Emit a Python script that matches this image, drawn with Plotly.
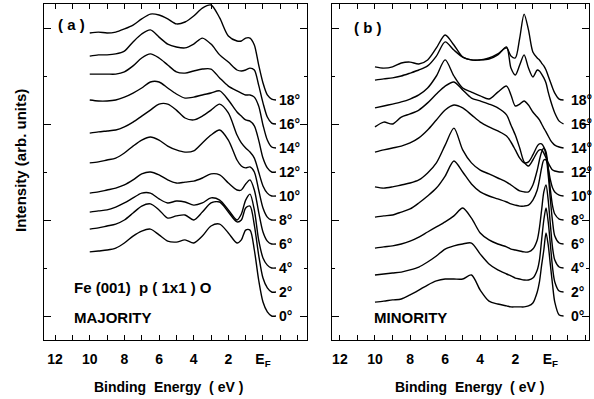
import plotly.graph_objects as go

# ---------------- data ----------------
ANGLES = [0, 2, 4, 6, 8, 10, 12, 14, 16, 18]

# Panel (a) majority spectra: binding energy grid (eV) and intensities (arb. units, above own baseline)
E_A = [10, 9.5, 9, 8.5, 8, 7.5, 7, 6.5, 6, 5.5, 5, 4.5, 4, 3.5, 3, 2.5, 2, 1.5, 1.25, 1.0, 0.75, 0.5, 0.25, 0, -0.25, -0.5, -0.75]
MAJ_18 = [2.79, 2.83, 2.79, 2.83, 2.96, 3.12, 3.38, 3.58, 3.54, 3.38, 3.17, 3.25, 3.50, 3.83, 3.96, 3.42, 2.67, 2.46, 2.46, 2.58, 2.58, 2.29, 1.46, 0.71, 0.21, 0.04, 0]
MAJ_16 = [2.83, 2.88, 2.88, 2.92, 3.04, 3.42, 3.75, 3.92, 3.62, 3.33, 3.21, 3.17, 3.33, 3.58, 3.33, 2.88, 2.58, 2.25, 2.21, 2.25, 2.33, 2.25, 1.62, 0.88, 0.29, 0.04, 0]
MAJ_14 = [3.08, 3.08, 3.08, 3.08, 3.17, 3.42, 3.75, 3.92, 3.75, 3.46, 3.17, 3.12, 3.21, 3.29, 3.29, 2.92, 2.58, 2.38, 2.29, 2.21, 2.21, 2.12, 1.75, 0.96, 0.33, 0.04, 0]
MAJ_12 = [3.00, 2.96, 2.96, 3.00, 3.12, 3.29, 3.50, 3.75, 3.75, 3.50, 3.25, 3.08, 3.12, 3.21, 3.29, 3.38, 3.00, 2.50, 2.33, 2.17, 2.12, 1.92, 1.33, 0.58, 0.17, 0, 0]
MAJ_10 = [2.62, 2.67, 2.71, 2.75, 2.88, 3.08, 3.33, 3.58, 3.83, 3.83, 3.58, 3.25, 3.17, 3.33, 3.58, 3.83, 3.46, 2.54, 2.21, 2.00, 1.83, 1.58, 1.00, 0.42, 0.12, 0, 0]
MAJ_8 = [2.38, 2.42, 2.50, 2.58, 2.79, 3.08, 3.33, 3.46, 3.33, 3.08, 2.92, 2.83, 2.88, 3.21, 3.54, 3.75, 3.33, 2.50, 2.25, 2.17, 2.21, 2.00, 1.25, 0.50, 0.12, 0, 0]
MAJ_6 = [2.12, 2.17, 2.25, 2.33, 2.46, 2.67, 2.92, 3.00, 2.88, 2.67, 2.54, 2.58, 2.62, 2.75, 2.92, 2.88, 2.54, 2.25, 2.25, 2.50, 2.67, 2.25, 1.33, 0.50, 0.12, 0, 0]
MAJ_4 = [2.33, 2.38, 2.42, 2.54, 2.71, 2.92, 3.12, 3.12, 2.88, 2.71, 2.79, 2.75, 2.62, 2.71, 2.92, 2.83, 2.42, 2.00, 2.25, 2.83, 3.08, 2.42, 1.17, 0.42, 0.12, 0, 0]
MAJ_2 = [2.62, 2.67, 2.75, 2.83, 3.00, 3.29, 3.58, 3.67, 3.42, 3.08, 3.17, 3.21, 3.00, 3.33, 3.71, 3.75, 3.33, 2.92, 3.00, 3.50, 3.58, 2.79, 1.54, 0.58, 0.17, 0, 0]
MAJ_0 = [2.67, 2.71, 2.75, 2.83, 3.04, 3.33, 3.54, 3.62, 3.38, 3.12, 3.08, 3.17, 3.04, 3.33, 3.75, 3.83, 3.46, 3.04, 3.17, 3.58, 3.58, 2.75, 1.50, 0.58, 0.17, 0, 0]

# Panel (b) minority spectra
E_B = [10, 9.5, 9, 8.5, 8, 7.5, 7, 6.5, 6, 5.5, 5, 4.5, 4, 3.5, 3, 2.5, 2.25, 2, 1.75, 1.5, 1.25, 1, 0.75, 0.625, 0.5, 0.375, 0.25, 0.125, 0, -0.125, -0.25, -0.5, -0.75]
MIN_18 = [1.38, 1.33, 1.38, 1.54, 1.58, 1.50, 1.67, 2.17, 2.71, 2.29, 1.79, 1.67, 1.67, 1.75, 1.92, 2.17, 1.83, 1.75, 2.58, 3.58, 2.92, 2.00, 1.75, 1.67, 1.54, 1.42, 1.25, 1.00, 0.75, 0.50, 0.29, 0.04, 0]
MIN_16 = [1.83, 1.88, 1.92, 2.00, 2.12, 2.25, 2.42, 2.83, 3.42, 3.08, 2.79, 2.67, 2.67, 2.71, 2.88, 3.21, 2.33, 2.04, 2.46, 2.88, 2.33, 1.96, 2.25, 2.21, 2.08, 1.92, 1.71, 1.33, 1.00, 0.71, 0.46, 0.12, 0]
MIN_14 = [1.67, 1.75, 1.83, 1.92, 2.04, 2.21, 2.50, 3.00, 3.67, 3.00, 2.50, 2.33, 2.17, 2.04, 2.33, 2.58, 2.21, 1.75, 1.83, 1.96, 1.79, 1.50, 1.29, 1.17, 1.00, 0.83, 0.67, 0.50, 0.33, 0.21, 0.12, 0.04, 0]
MIN_12 = [1.88, 2.08, 2.00, 2.29, 2.42, 2.58, 2.88, 3.25, 3.58, 3.75, 3.42, 3.08, 2.96, 2.83, 2.67, 2.38, 1.96, 1.54, 1.00, 0.42, 0.25, 0.50, 0.83, 0.92, 0.92, 0.79, 0.58, 0.38, 0.21, 0.08, 0.04, 0, 0]
MIN_10 = [1.83, 1.92, 2.00, 2.08, 2.21, 2.42, 2.75, 3.17, 3.58, 3.79, 3.67, 3.38, 3.08, 2.88, 2.71, 2.50, 2.25, 1.92, 1.58, 1.38, 1.42, 1.71, 2.08, 2.17, 2.17, 2.04, 1.71, 1.17, 0.67, 0.33, 0.17, 0.04, 0]
MIN_8 = [1.38, 1.33, 1.38, 1.46, 1.54, 1.67, 1.96, 2.38, 3.12, 3.83, 2.92, 2.38, 2.08, 1.92, 1.75, 1.58, 1.46, 1.33, 1.21, 1.17, 1.17, 1.46, 2.08, 2.50, 2.83, 3.00, 2.83, 2.17, 1.25, 0.58, 0.25, 0.04, 0]
MIN_6 = [1.12, 1.17, 1.21, 1.33, 1.46, 1.71, 2.00, 2.33, 2.83, 3.46, 3.00, 2.50, 2.17, 2.00, 1.88, 1.75, 1.67, 1.62, 1.58, 1.58, 1.62, 1.83, 2.25, 2.67, 3.17, 3.50, 3.50, 2.88, 1.83, 0.92, 0.33, 0.04, 0]
MIN_4 = [0.83, 0.88, 0.92, 1.00, 1.12, 1.29, 1.50, 1.71, 1.92, 2.17, 2.50, 2.08, 1.46, 1.17, 1.00, 0.88, 0.79, 0.75, 0.71, 0.67, 0.67, 0.79, 1.17, 1.67, 2.42, 3.17, 3.46, 2.83, 1.79, 0.83, 0.33, 0.04, 0]
MIN_2 = [0.71, 0.75, 0.79, 0.83, 0.92, 1.04, 1.25, 1.50, 1.79, 1.92, 2.00, 2.04, 1.58, 1.17, 0.92, 0.75, 0.67, 0.58, 0.54, 0.50, 0.50, 0.58, 0.92, 1.33, 2.17, 3.00, 3.50, 2.92, 1.96, 1.00, 0.42, 0.04, 0]
MIN_0 = [0.58, 0.62, 0.67, 0.71, 0.88, 1.08, 1.29, 1.46, 1.54, 1.54, 1.54, 1.71, 1.08, 0.62, 0.50, 0.42, 0.38, 0.38, 0.38, 0.38, 0.42, 0.54, 1.00, 1.42, 2.12, 2.75, 3.46, 2.96, 2.12, 1.29, 0.58, 0.04, 0]

MAJORITY = [MAJ_0, MAJ_2, MAJ_4, MAJ_6, MAJ_8, MAJ_10, MAJ_12, MAJ_14, MAJ_16, MAJ_18]
MINORITY = [MIN_0, MIN_2, MIN_4, MIN_6, MIN_8, MIN_10, MIN_12, MIN_14, MIN_16, MIN_18]

X_TICKS = [12, 10, 8, 6, 4, 2, 0]
X_TICKTEXT = ["12", "10", "8", "6", "4", "2", "E<sub>F</sub>"]
X_MINOR = [11, 9, 7, 5, 3, 1, -1, -2]

# ---------------- figure ----------------
FONT = "Liberation Sans, Arial, Helvetica, sans-serif"
W, H = 594, 399

fig = go.Figure()

for i, (ang, ia, ib) in enumerate(zip(ANGLES, MAJORITY, MINORITY)):
    off = i  # vertical offset, one unit per spectrum
    fig.add_trace(go.Scatter(x=E_A, y=[v + off for v in ia], mode="lines",
                             line=dict(color="black", width=1.4, shape="spline", smoothing=0.8),
                             xaxis="x", yaxis="y", showlegend=False, hoverinfo="skip"))
    fig.add_trace(go.Scatter(x=E_B, y=[v + off for v in ib], mode="lines",
                             line=dict(color="black", width=1.4, shape="spline", smoothing=0.8),
                             xaxis="x2", yaxis="y2", showlegend=False, hoverinfo="skip"))

def xax(domain, rng, anchor):
    return dict(domain=domain, range=rng, anchor=anchor,
                tickvals=X_TICKS, ticktext=X_TICKTEXT, ticks="inside", ticklen=5,
                tickwidth=1.2, tickcolor="black",
                minor=dict(tickvals=X_MINOR, ticks="inside", ticklen=5, tickwidth=1.2, tickcolor="black"),
                showline=True, linecolor="black", linewidth=1.4, mirror="ticks",
                showgrid=False, zeroline=False,
                tickfont=dict(family=FONT, size=14, color="black", weight="bold"),
                ticklabelstandoff=6)

def yax(domain, anchor):
    return dict(domain=domain, range=[-1, 13], anchor=anchor,
                tickvals=[0, 4, 8, 12], ticks="inside", ticklen=7, tickwidth=1.2, tickcolor="black",
                minor=dict(tickvals=[2, 6, 10], ticks="inside", ticklen=3, tickwidth=1.2, tickcolor="black"),
                showticklabels=False, showline=True, linecolor="black", linewidth=1.4,
                mirror="ticks", showgrid=False, zeroline=False)

ytop = 1 - 4 / H
ybot = 1 - 340 / H
fig.update_layout(
    width=W, height=H, margin=dict(l=0, r=0, t=0, b=0),
    paper_bgcolor="white", plot_bgcolor="white",
    xaxis=xax([44 / W, 307 / W], [12.64, -2.54], "y"),
    yaxis=yax([ybot, ytop], "x"),
    xaxis2=xax([332 / W, 589 / W], [12.45, -2.2], "y2"),
    yaxis2=yax([ybot, ytop], "x2"),
)

ann = []
for i, ang in enumerate(ANGLES):
    ann.append(dict(x=-0.82, y=i, xref="x", yref="y", text="%d°" % ang, showarrow=False,
                    xanchor="left", yanchor="middle",
                    font=dict(family=FONT, size=14, color="black", weight="bold")))
    ann.append(dict(x=-1.05, y=i, xref="x2", yref="y2", text="%d°" % ang, showarrow=False,
                    xanchor="left", yanchor="middle",
                    font=dict(family=FONT, size=14, color="black", weight="bold")))

def ptext(x, y, text, xanchor="center", size=15, angle=0):
    return dict(x=x / W, y=1 - y / H, xref="paper", yref="paper", text=text, showarrow=False,
                xanchor=xanchor, yanchor="middle", textangle=angle,
                font=dict(family=FONT, size=size, color="black", weight="bold"))

ann += [
    ptext(71, 25, "( a )"),
    ptext(368, 27, "( b )"),
    ptext(72, 287, "Fe (001)  p ( 1x1 ) O", xanchor="left"),
    ptext(72, 317, "MAJORITY", xanchor="left"),
    ptext(372, 317, "MINORITY", xanchor="left"),
    ptext(168, 387, "Binding  Energy  ( eV )", size=14),
    ptext(470, 387, "Binding  Energy  ( eV )", size=14),
    ptext(21, 161, "Intensity (arb. units)", size=15, angle=-90),
]
fig.update_layout(annotations=ann)

fig.write_html("out.html")
